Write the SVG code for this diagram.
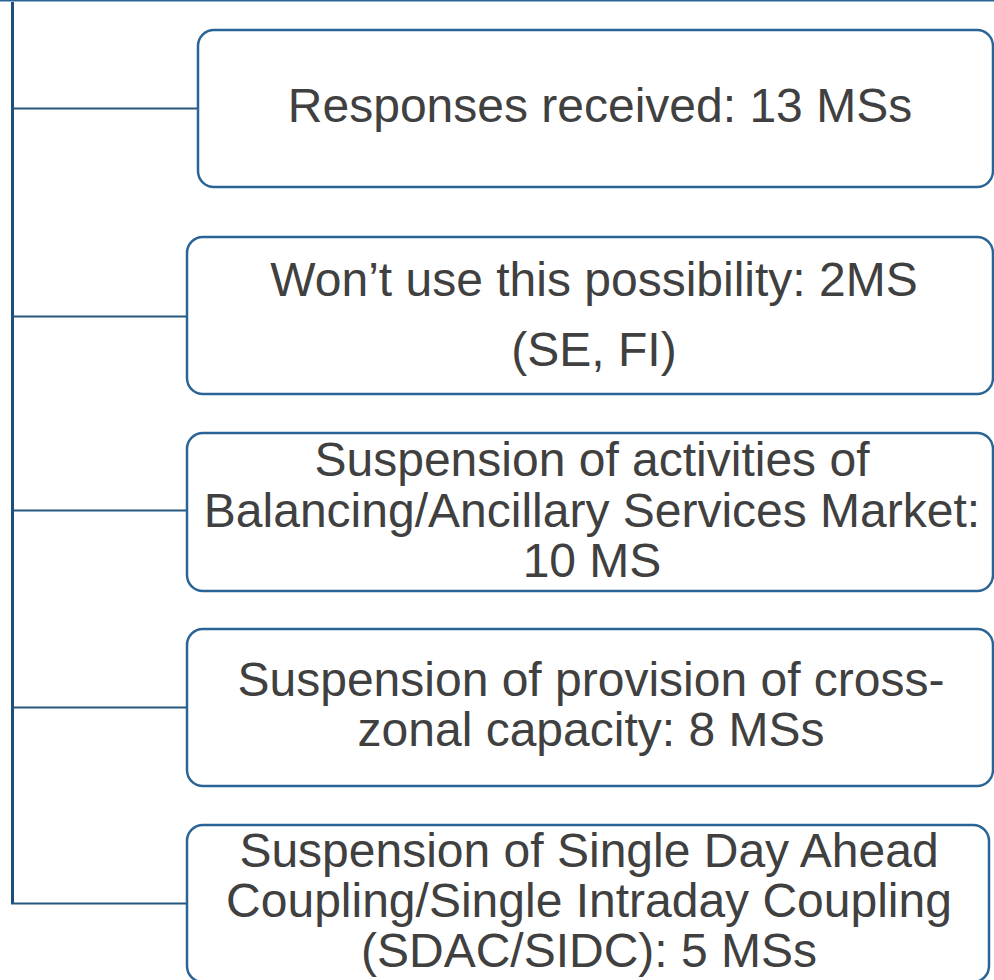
<svg xmlns="http://www.w3.org/2000/svg" width="994" height="980" viewBox="0 0 994 980">
<style>
.box{fill:#ffffff;stroke:#2a6496;stroke-width:2.5}
.conn{fill:none;stroke:#24577f;stroke-width:2}
.trunk{fill:none;stroke:#1f4e79;stroke-width:3}
.t{font-family:"Liberation Sans",Arial,sans-serif;font-size:48px;fill:#404040;text-anchor:middle}
</style>
<rect x="0" y="0" width="994" height="980" fill="#ffffff"/>
<line x1="0" y1="0.75" x2="994" y2="0.75" stroke="#2a6496" stroke-width="1.5"/>
<g id="connectors">
<path class="trunk" d="M12.5,2 V904"/>
<path class="conn" d="M11,108.5 H198"/>
<path class="conn" d="M11,316.5 H187"/>
<path class="conn" d="M11,510.5 H187"/>
<path class="conn" d="M11,707.5 H187"/>
<path class="conn" d="M11,903.5 H187"/>
</g>
<g id="node1">
<rect class="box" x="198" y="30" width="795" height="157" rx="16"/>
<text class="t" x="600" y="122">Responses received: 13 MSs</text>
</g>
<g id="node2">
<rect class="box" x="187" y="237" width="806" height="157" rx="16"/>
<text class="t" x="594" y="296">Won’t use this possibility: 2MS</text>
<text class="t" x="594" y="366">(SE, FI)</text>
</g>
<g id="node3">
<rect class="box" x="187" y="433" width="806" height="158" rx="16"/>
<text class="t" x="592" y="476">Suspension of activities of</text>
<text class="t" x="592" y="527">Balancing/Ancillary Services Market:</text>
<text class="t" x="592" y="577">10 MS</text>
</g>
<g id="node4">
<rect class="box" x="187" y="629" width="806" height="157" rx="16"/>
<text class="t" x="591" y="696">Suspension of provision of cross-</text>
<text class="t" x="591" y="746">zonal capacity: 8 MSs</text>
</g>
<g id="node5">
<rect class="box" x="187" y="825" width="802" height="157" rx="16"/>
<text class="t" x="589" y="867">Suspension of Single Day Ahead</text>
<text class="t" x="589" y="917">Coupling/Single Intraday Coupling</text>
<text class="t" x="589" y="967">(SDAC/SIDC): 5 MSs</text>
</g>
</svg>
